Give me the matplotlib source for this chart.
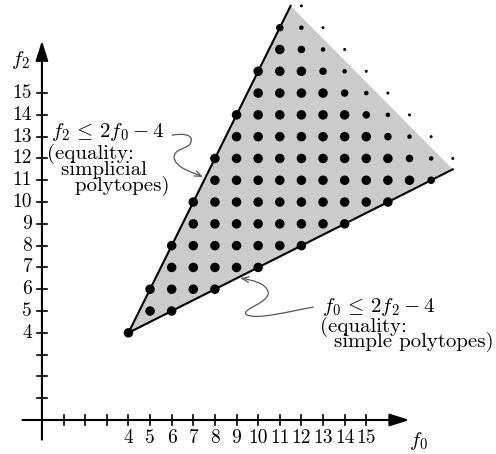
import matplotlib.pyplot as plt
from matplotlib.patches import Polygon, FancyArrowPatch
from matplotlib.path import Path

plt.rcParams['mathtext.fontset'] = 'cm'
plt.rcParams['font.family'] = ['cmr10', 'DejaVu Serif']
plt.rcParams['axes.unicode_minus'] = False

# lattice rows: f2 value and the f0 range that carries a dot
rows_f2 = [4, 5, 6, 7, 8, 9, 10, 11, 12, 13, 14, 15, 16, 17, 18, 19]
rows_f0_lo = [4, 5, 5, 6, 6, 7, 7, 8, 8, 9, 9, 10, 10, 11, 11, 12]
rows_f0_hi = [4, 6, 8, 10, 12, 14, 16, 18, 19, 18, 17, 16, 15, 14, 13, 12]

# shaded region (vertices in f0, f2)
region_f0 = [4, 11.5, 19]
region_f2 = [4, 19, 11.5]

ticks = list(range(1, 16))
tick_labels = list(range(4, 16))

fig = plt.figure(figsize=(4.96, 4.54), dpi=100)
ax = fig.add_axes([0, 0, 1, 1])
ax.set_xlim(-1.94, 21.0)
ax.set_ylim(-1.56, 19.27)
ax.axis('off')

ax.add_patch(Polygon(list(zip(region_f0, region_f2)), closed=True,
                     facecolor='#cbcbcb', edgecolor='none', zorder=1))
ax.plot([region_f0[0], region_f0[1]], [region_f2[0], region_f2[1]], color='k', lw=1.5, zorder=2)
ax.plot([region_f0[0], region_f0[2]], [region_f2[0], region_f2[2]], color='k', lw=1.5, zorder=2)

# dots get smaller as f0 + f2 grows past 28
xs, ys, ss = [], [], []
for f2, lo, hi in zip(rows_f2, rows_f0_lo, rows_f0_hi):
    for f0 in range(lo, hi + 1):
        s = f0 + f2
        d = 9.5 if s <= 28 else {29: 7.5, 30: 4.5, 31: 3}[s]
        xs.append(f0)
        ys.append(f2)
        ss.append((d * 0.72) ** 2)
ax.scatter(xs, ys, s=ss, color='k', linewidths=0, zorder=3)

# axes with arrows
ax.annotate('', xy=(17.0, 0), xytext=(-0.9, 0),
            arrowprops=dict(arrowstyle='-|>,head_length=1.2,head_width=0.38',
                            color='k', lw=1.5, shrinkA=0, shrinkB=0), zorder=4)
ax.annotate('', xy=(0, 17.4), xytext=(0, -0.9),
            arrowprops=dict(arrowstyle='-|>,head_length=1.2,head_width=0.38',
                            color='k', lw=1.5, shrinkA=0, shrinkB=0), zorder=4)
for t in ticks:
    ax.plot([t, t], [-0.23, 0.23], color='k', lw=1.2, zorder=4)
    ax.plot([-0.23, 0.23], [t, t], color='k', lw=1.2, zorder=4)
for t in tick_labels:
    ax.text(t, -0.82, str(t), ha='center', va='center', fontsize=14)
    ax.text(-0.45, t, str(t), ha='right', va='center', fontsize=14)

ax.text(-1.0, 16.5, r'$f_2$', ha='center', va='center', fontsize=15)
ax.text(17.4, -0.95, r'$f_0$', ha='center', va='center', fontsize=15)

# annotations
ax.text(0.42, 13.21, r'$f_2 \,\leq\, 2f_0 - 4$', ha='left', va='center', fontsize=15)
ax.text(0.24, 11.47, '(equality:\n  simplicial\n    polytopes)', ha='left', va='center',
        fontsize=15, linespacing=0.82)

ax.text(12.95, 5.18, r'$f_0 \,\leq\, 2f_2 - 4$', ha='left', va='center', fontsize=15)
ax.text(12.87, 3.93, '(equality:\n  simple polytopes)', ha='left', va='center',
        fontsize=15, linespacing=0.7)

C3, MT = Path.CURVE4, Path.MOVETO
top_curve = Path([(6.02, 13.07), (6.62, 13.17), (7.08, 13.07), (6.85, 12.66),
                  (6.67, 12.43), (6.11, 12.43), (6.11, 12.06),
                  (6.16, 11.56), (6.94, 11.38), (7.45, 11.15)],
                 [MT, C3, C3, C3, C3, C3, C3, C3, C3, C3])
low_curve = Path([(12.55, 5.18), (11.48, 5.0), (10.0, 4.59), (9.49, 4.82),
                  (9.07, 5.05), (10.56, 5.37), (10.46, 5.87),
                  (10.37, 6.28), (9.72, 6.42), (9.17, 6.51)],
                 [MT, C3, C3, C3, C3, C3, C3, C3, C3, C3])
for p in [top_curve, low_curve]:
    ax.add_patch(FancyArrowPatch(path=p, arrowstyle='->,head_length=0.5,head_width=0.2',
                                 mutation_scale=10, color='#555555', lw=0.9,
                                 transform=ax.transData, zorder=5))

plt.savefig('out.png', dpi=100)
